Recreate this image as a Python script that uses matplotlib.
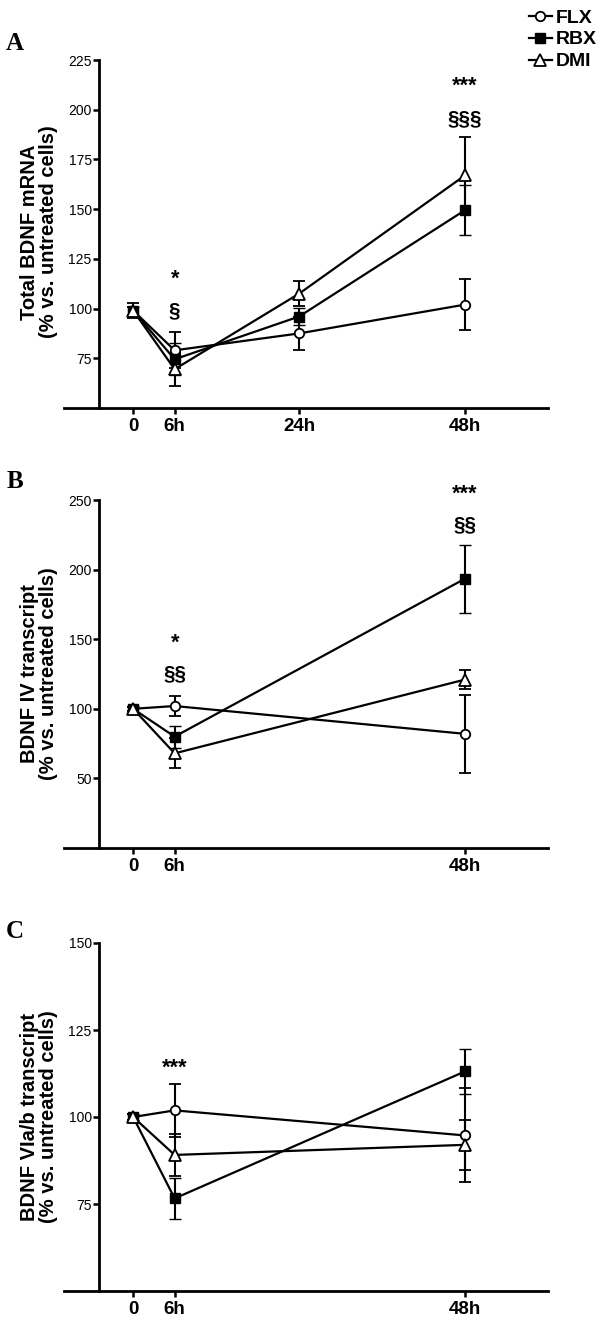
import matplotlib
matplotlib.use("Agg")
import matplotlib.pyplot as plt
from matplotlib.lines import Line2D

plt.rcParams['font.family'] = ['Liberation Sans', 'DejaVu Sans']

# ---------------- data ----------------
series_names = ["FLX", "RBX", "DMI"]

times_A = [0, 6, 24, 48]
xlabels_A = ["0", "6h", "24h", "48h"]
A_FLX = [99, 79, 87.5, 102]
A_FLX_err = [3.7, 9, 8.4, 13]
A_RBX = [99, 74.5, 96, 149.5]
A_RBX_err = [2.0, 8, 4.5, 12.5]
A_DMI = [99, 69.5, 107.5, 167]
A_DMI_err = [2.0, 8.4, 6.3, 19.5]

times_BC = [0, 6, 48]
xlabels_BC = ["0", "6h", "48h"]
B_FLX = [100, 102, 82]
B_FLX_err = [1.5, 7, 28]
B_RBX = [100, 80, 193.5]
B_RBX_err = [2, 8, 24.5]
B_DMI = [100, 68, 121]
B_DMI_err = [1.5, 10.8, 7]

C_FLX = [100, 101.9, 94.7]
C_FLX_err = [1, 7.7, 13.5]
C_RBX = [100, 76.6, 113.1]
C_RBX_err = [1, 6, 6.5]
C_DMI = [100, 89.1, 92]
C_DMI_err = [1, 6, 7.2]

ylabel_A = "Total BDNF mRNA\n(% vs. untreated cells)"
ylabel_B = "BDNF IV transcript\n(% vs. untreated cells)"
ylabel_C = "BDNF VIa/b transcript\n(% vs. untreated cells)"

yticks_A = [75, 100, 125, 150, 175, 200, 225]
yticks_B = [50, 100, 150, 200, 250]
yticks_C = [75, 100, 125, 150]

annot_A_text = ["*", "§", "***", "§§§"]
annot_A_x = [6, 6, 48, 48]
annot_A_y = [115, 99, 212, 195.5]
annot_B_text = ["*", "§§", "***", "§§"]
annot_B_x = [6, 6, 48, 48]
annot_B_y = [147, 125, 254, 232]
annot_C_text = ["***"]
annot_C_x = [6]
annot_C_y = [114]

# ---------------- styling ----------------
W, H = 600, 1337
fig = plt.figure(figsize=(W / 100, H / 100), dpi=100)

styles = {
    "FLX": dict(marker="o", mfc="white", mec="black", ms=6.8, mew=1.3),
    "RBX": dict(marker="s", mfc="black", mec="black", ms=7.2, mew=1.0),
    "DMI": dict(marker="^", mfc="white", mec="black", ms=8.2, mew=1.3),
}

def px_rect(top, bottom, left=64, right=548):
    return [left / W, (H - bottom) / H, (right - left) / W, (bottom - top) / H]


def draw_panel(rect, times, vals, errs, ylim, yticks, xlabels, ylabel,
               letter, letter_y, atext, ax_, ay_, label_dy=0):
    ax = fig.add_axes(rect)
    for name, v, e in zip(series_names, vals, errs):
        st = styles[name]
        ax.errorbar(times, v, yerr=e, color="black", lw=1.6, elinewidth=1.5,
                    capsize=4.2, capthick=1.5, clip_on=False, zorder=3, **st)
    ax.set_xlim(-10, 60)
    ax.set_ylim(*ylim)
    ax.set_yticks(yticks)
    ax.set_yticklabels([str(t) for t in yticks], fontsize=12.5)
    ax.set_xticks(times)
    ax.set_xticklabels(xlabels, fontsize=13.5, fontweight="bold")
    ax.spines["top"].set_visible(False)
    ax.spines["right"].set_visible(False)
    ax.spines["left"].set_position(("data", -5))
    ax.spines["left"].set_bounds(ylim[0], ylim[1])
    for s in ("left", "bottom"):
        ax.spines[s].set_linewidth(2.0)
    ax.tick_params(axis="both", width=1.8, length=4, color="black")
    ax.tick_params(axis="y", pad=1)
    ax.tick_params(axis="x", pad=3)
    for i, (t, x, y) in enumerate(zip(atext, ax_, ay_)):
        fs = 15.5 if "*" in t else 15
        ax.text(x, y, t, ha="center", va="center", fontsize=fs,
                fontweight="bold")
    # y label
    top_px = H - (rect[1] + rect[3]) * H
    bot_px = H - rect[1] * H
    fig.text(39 / W, 1 - ((top_px + bot_px) / 2 + label_dy) / H, ylabel,
             rotation=90, ha="center", va="center", fontsize=14.5,
             fontweight="bold", linespacing=1.0)
    fig.text(15 / W, 1 - letter_y / H, letter, ha="center", va="center",
             fontsize=18, fontweight="bold", family="Liberation Serif")
    return ax


draw_panel(px_rect(60, 408), times_A, [A_FLX, A_RBX, A_DMI],
           [A_FLX_err, A_RBX_err, A_DMI_err], (50, 225), yticks_A, xlabels_A,
           ylabel_A, "A", 43, annot_A_text, annot_A_x, annot_A_y, label_dy=-2)
draw_panel(px_rect(500, 848), times_BC, [B_FLX, B_RBX, B_DMI],
           [B_FLX_err, B_RBX_err, B_DMI_err], (0, 250), yticks_B, xlabels_BC,
           ylabel_B, "B", 482, annot_B_text, annot_B_x, annot_B_y)
draw_panel(px_rect(943, 1291), times_BC, [C_FLX, C_RBX, C_DMI],
           [C_FLX_err, C_RBX_err, C_DMI_err], (50, 150), yticks_C, xlabels_BC,
           ylabel_C, "C", 932, annot_C_text, annot_C_x, annot_C_y)

handles = [Line2D([], [], color="black", lw=1.6, **styles[n]) for n in series_names]
fig.legend(handles, series_names, loc="upper right",
           bbox_to_anchor=(597 / W, 1 - 9 / H), frameon=False,
           prop=dict(size=14, weight="bold"), handlelength=1.2,
           handletextpad=0.2, labelspacing=0.22, borderpad=0, borderaxespad=0)

fig.savefig("out.png", dpi=100)
